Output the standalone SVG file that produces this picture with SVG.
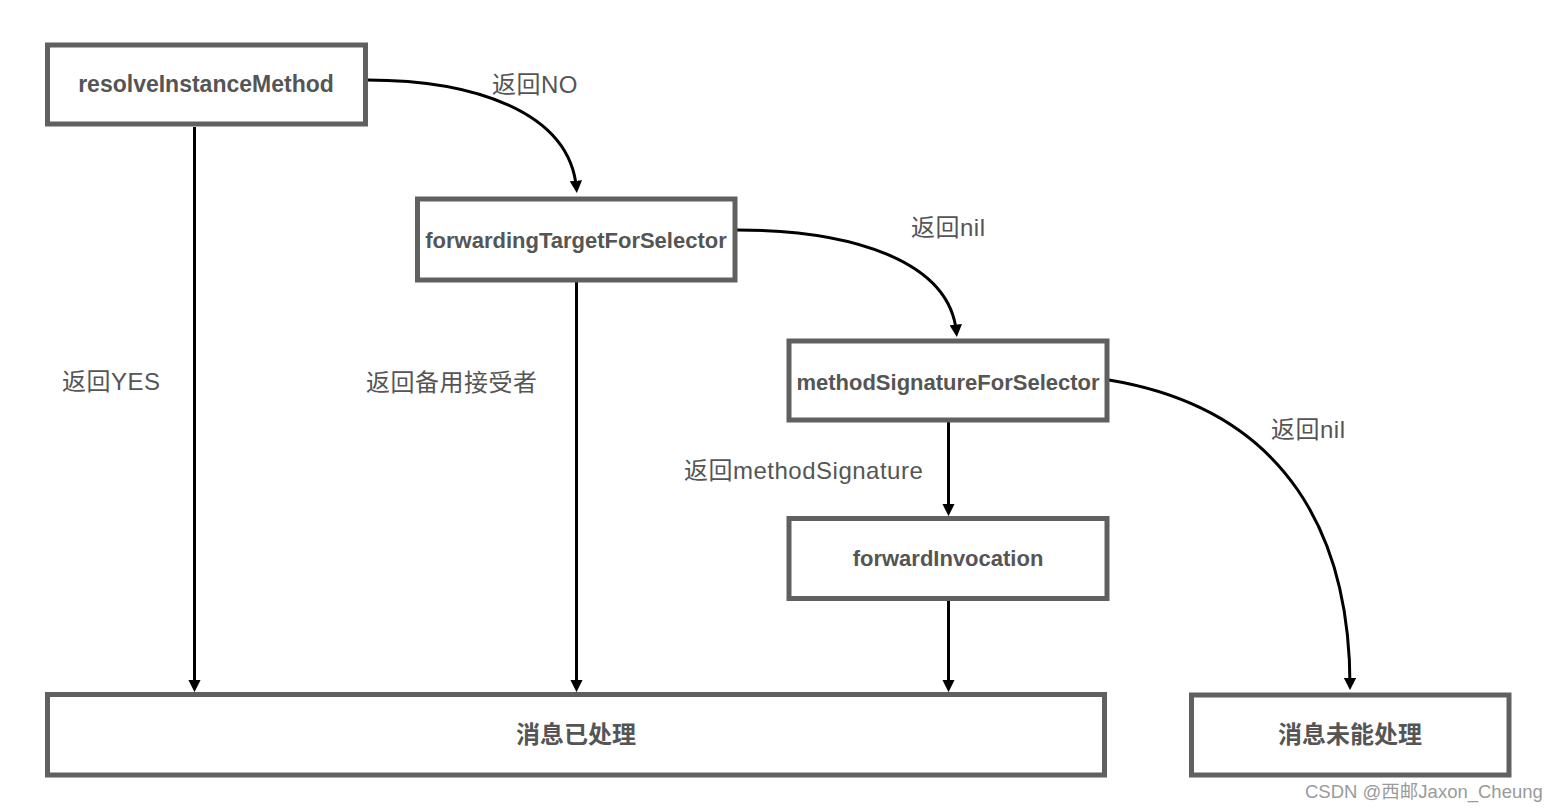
<svg xmlns="http://www.w3.org/2000/svg" width="1558" height="812" viewBox="0 0 1558 812">
<style>
.box{fill:#ffffff;stroke:#606060;stroke-width:5}
.nt{font-family:"Liberation Sans","Noto Sans CJK SC",sans-serif;font-weight:bold;font-size:22px;fill:#555555;text-anchor:middle}
.ct{font-family:"Liberation Sans","Noto Sans CJK SC",sans-serif;font-weight:bold;font-size:24px;fill:#555555;text-anchor:middle}
.lb{font-family:"Liberation Sans","Noto Sans CJK SC",sans-serif;font-size:24px;letter-spacing:0.5px;fill:#555555}
.wm{font-family:"Liberation Sans","Noto Sans CJK SC",sans-serif;font-size:18.5px;fill:#9a9a9a}
.edge{fill:none;stroke:#000000;stroke-width:3;marker-end:url(#arr)}
</style>
<defs>
<marker id="arr" viewBox="0 0 10 10" refX="6.7" refY="5" markerWidth="12.5" markerHeight="12.5" markerUnits="userSpaceOnUse" orient="auto">
<path d="M0,0 L10,5 L0,10 z" fill="#000000"/>
</marker>
</defs>
<rect width="1558" height="812" fill="#ffffff"/>
<g id="connectors">
<path class="edge" d="M194.5,127 L194.5,688"/>
<path class="edge" d="M576.5,282 L576.5,688"/>
<path class="edge" d="M948.5,422 L948.5,512"/>
<path class="edge" d="M948.5,601 L948.5,688"/>
<path class="edge" d="M367,80 C470,80 570,110 576.5,189"/>
<path class="edge" d="M737,230 C850,230 950,260 956.5,333"/>
<path class="edge" d="M1109,380 C1290,410 1350,540 1350,686"/>
</g>
<g id="labels">
<text class="lb" x="492" y="93">返回NO</text>
<text class="lb" x="911" y="236">返回nil</text>
<text class="lb" x="62" y="390">返回YES</text>
<text class="lb" x="366" y="391">返回备用接受者</text>
<text class="lb" x="684" y="479">返回methodSignature</text>
<text class="lb" x="1271" y="438">返回nil</text>
</g>
<g id="resolveInstanceMethod">
<rect class="box" x="47.5" y="45" width="318" height="79"/>
<text class="nt" x="206" y="92" style="font-size:23px">resolveInstanceMethod</text>
</g>
<g id="forwardingTargetForSelector">
<rect class="box" x="417.5" y="199" width="317.5" height="81"/>
<text class="nt" x="576" y="248">forwardingTargetForSelector</text>
</g>
<g id="methodSignatureForSelector">
<rect class="box" x="789" y="341" width="318" height="79"/>
<text class="nt" x="948" y="390">methodSignatureForSelector</text>
</g>
<g id="forwardInvocation">
<rect class="box" x="789" y="518.5" width="318" height="80"/>
<text class="nt" x="948" y="566">forwardInvocation</text>
</g>
<g id="handled">
<rect class="box" x="47.5" y="694.5" width="1057" height="80.5"/>
<text class="ct" x="576" y="743">消息已处理</text>
</g>
<g id="unhandled">
<rect class="box" x="1191.5" y="695" width="317.5" height="80"/>
<text class="ct" x="1350" y="743">消息未能处理</text>
</g>
<text class="wm" x="1305" y="798">CSDN @西邮Jaxon_Cheung</text>
</svg>
